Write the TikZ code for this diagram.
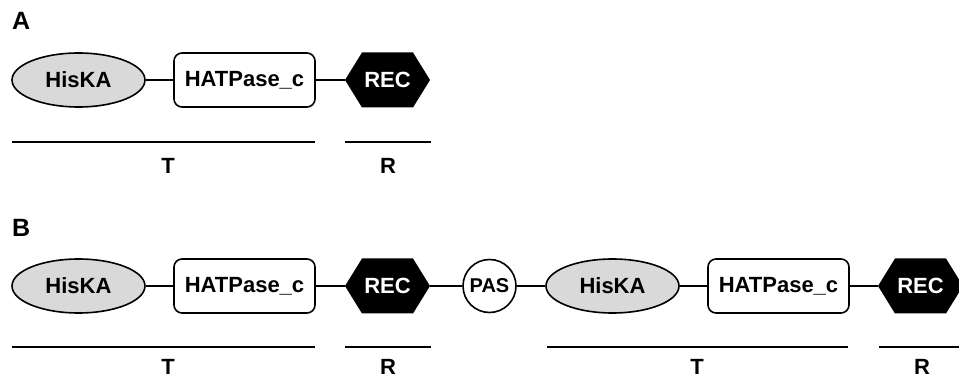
\documentclass[tikz,border=0pt]{standalone}
\usepackage{fontspec}
\setmainfont{Liberation Sans}
\usetikzlibrary{shapes.geometric}

\tikzset{
  lbl/.style={font=\bfseries\fontsize{22}{22}\selectfont, inner sep=0pt},
  dom/.style={lbl, line width=1.6pt, draw=black, minimum height=54pt},
  hiska/.style={dom, ellipse, fill=gray!30, minimum width=133pt},
  hatpase/.style={dom, rectangle, rounded corners=8pt, fill=white, minimum width=141pt},
  pasdom/.style={dom, circle, fill=white, minimum size=53pt, font=\bfseries\fontsize{20}{20}\selectfont},
  recdom/.style={lbl, rectangle, text=white, minimum width=85pt, minimum height=55pt,
    path picture={
      \fill[black] (path picture bounding box.west)
        -- ([xshift=17pt]path picture bounding box.north west)
        -- ([xshift=-17pt]path picture bounding box.north east)
        -- (path picture bounding box.east)
        -- ([xshift=-17pt]path picture bounding box.south east)
        -- ([xshift=17pt]path picture bounding box.south west) -- cycle;
    }},
  link/.style={line width=1.6pt},
  span/.style={line width=2pt},
  panel/.style={font=\bfseries\fontsize{25}{25}\selectfont, inner sep=0pt, anchor=base west},
}

\begin{document}
\begin{tikzpicture}[x=1pt, y=-1pt]
  \useasboundingbox (0,0) rectangle (959,379);
  \clip (0,0) rectangle (959,379);

  % Panel A: single HisKA - HATPase_c - REC protein
  \node[panel] (labA) at (12,30) {A};
  \node[hiska]   (a1) at (78.5,80) {HisKA};
  \node[hatpase] (a2) at (244.5,80) {HATPase\_c};
  \node[recdom]  (a3) at (387.5,80) {REC};
  \draw[link] (a1) -- (a2);
  \draw[link] (a2) -- (a3);

  \coordinate (aT1) at (12,142);  \coordinate (aT2) at (315,142);
  \coordinate (aR1) at (345,142); \coordinate (aR2) at (431,142);
  \draw[span] (aT1) -- (aT2);
  \draw[span] (aR1) -- (aR2);
  \node[lbl, anchor=base] (aT) at (168,174) {T};
  \node[lbl, anchor=base] (aR) at (388,174) {R};

  % Panel B: hybrid protein with a PAS linker
  \node[panel] (labB) at (12,237) {B};
  \node[hiska]   (b1) at (78.5,286) {HisKA};
  \node[hatpase] (b2) at (244.5,286) {HATPase\_c};
  \node[recdom]  (b3) at (387.5,286) {REC};
  \node[pasdom]  (b4) at (489.5,286) {PAS};
  \node[hiska]   (b5) at (612.5,286) {HisKA};
  \node[hatpase] (b6) at (778.5,286) {HATPase\_c};
  \node[recdom]  (b7) at (920.5,286) {REC};
  \draw[link] (b1) -- (b2);
  \draw[link] (b2) -- (b3);
  \draw[link] (b3) -- (b4);
  \draw[link] (b4) -- (b5);
  \draw[link] (b5) -- (b6);
  \draw[link] (b6) -- (b7);

  \coordinate (bT1) at (12,347);  \coordinate (bT2) at (315,347);
  \coordinate (bR1) at (345,347); \coordinate (bR2) at (431,347);
  \coordinate (bT3) at (547,347); \coordinate (bT4) at (848,347);
  \coordinate (bR3) at (879,347); \coordinate (bR4) at (965,347);
  \draw[span] (bT1) -- (bT2);
  \draw[span] (bR1) -- (bR2);
  \draw[span] (bT3) -- (bT4);
  \draw[span] (bR3) -- (bR4);
  \node[lbl, anchor=base] (bTa) at (168,375) {T};
  \node[lbl, anchor=base] (bRa) at (388,375) {R};
  \node[lbl, anchor=base] (bTb) at (697,375) {T};
  \node[lbl, anchor=base] (bRb) at (922,375) {R};
\end{tikzpicture}
\end{document}
